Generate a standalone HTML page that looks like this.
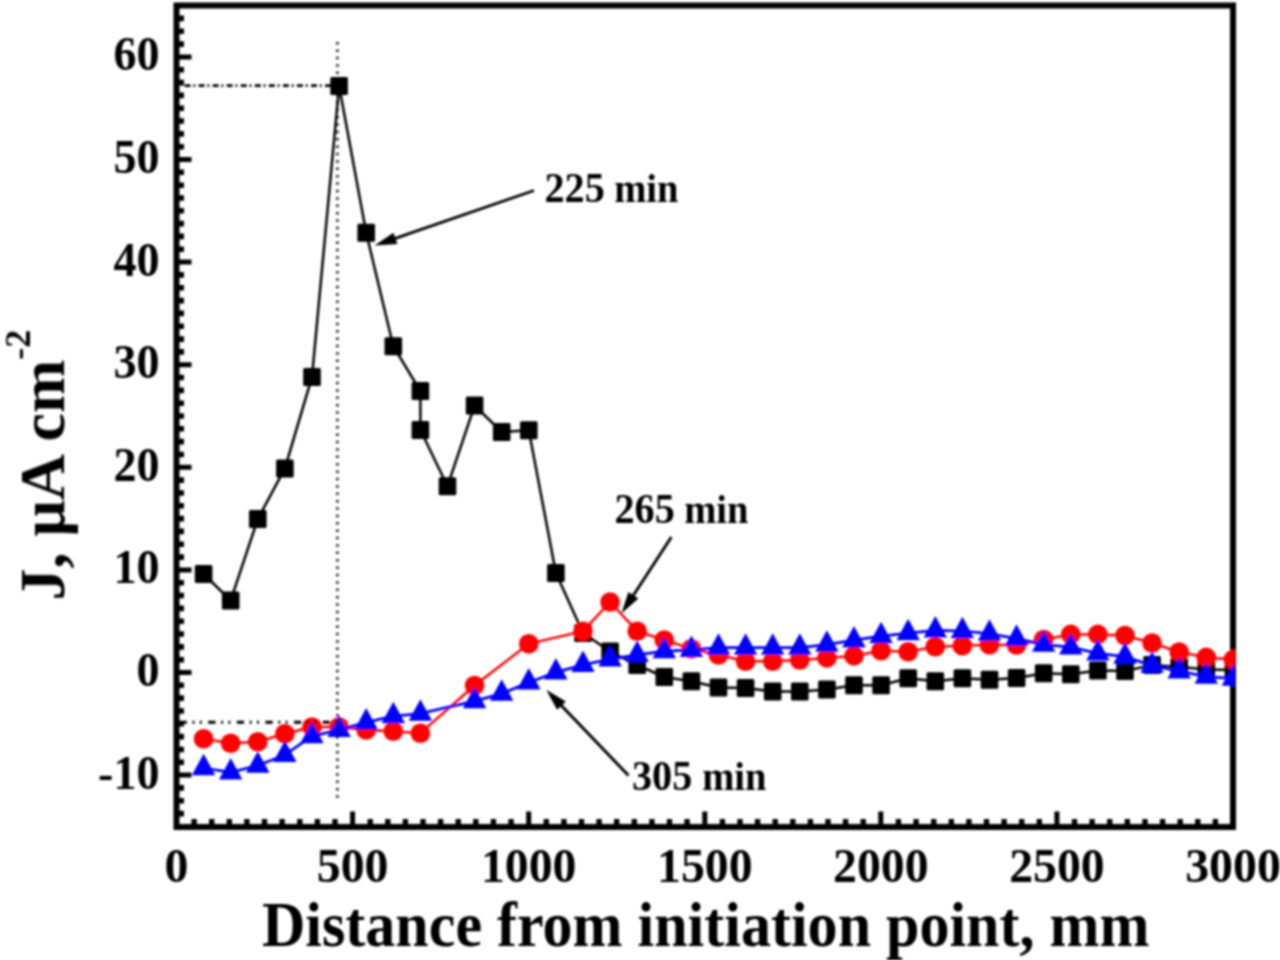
<!DOCTYPE html>
<html><head><meta charset="utf-8"><style>
html,body{margin:0;padding:0;background:#fff;width:1280px;height:960px;overflow:hidden}
svg{display:block}
text{font-family:"Liberation Serif",serif;font-weight:bold;fill:#000}
</style></head><body>
<svg width="1280" height="960" viewBox="0 0 1280 960">
<defs><filter id="bl" x="0" y="0" width="1280" height="960" filterUnits="userSpaceOnUse"><feGaussianBlur stdDeviation="0.8"/></filter><clipPath id="pc"><rect x="176.5" y="5.5" width="1058.8" height="821.2"/></clipPath></defs>
<g filter="url(#bl)">

<rect x="176.5" y="5.5" width="1056.5" height="821.5" fill="none" stroke="#000" stroke-width="6"/>
<path d="M179,775.1H191.5M179,672.5H191.5M179,569.9H191.5M179,467.3H191.5M179,364.7H191.5M179,262.1H191.5M179,159.5H191.5M179,56.9H191.5" stroke="#000" stroke-width="5" fill="none"/>
<path d="M179,813.6H184M179,800.8H184M179,787.9H184M179,762.3H184M179,749.5H184M179,736.6H184M179,723.8H184M179,711.0H184M179,698.1H184M179,685.3H184M179,659.7H184M179,646.9H184M179,634.0H184M179,621.2H184M179,608.4H184M179,595.5H184M179,582.7H184M179,557.1H184M179,544.2H184M179,531.4H184M179,518.6H184M179,505.8H184M179,493.0H184M179,480.1H184M179,454.5H184M179,441.6H184M179,428.8H184M179,416.0H184M179,403.2H184M179,390.4H184M179,377.5H184M179,351.9H184M179,339.1H184M179,326.2H184M179,313.4H184M179,300.6H184M179,287.8H184M179,274.9H184M179,249.3H184M179,236.4H184M179,223.6H184M179,210.8H184M179,198.0H184M179,185.2H184M179,172.3H184M179,146.7H184M179,133.9H184M179,121.0H184M179,108.2H184M179,95.4H184M179,82.6H184M179,69.7H184M179,44.1H184M179,31.2H184M179,18.4H184" stroke="#000" stroke-width="5.6" fill="none"/>
<path d="M352.6,824V811.5M528.7,824V811.5M704.8,824V811.5M880.8,824V811.5M1056.9,824V811.5" stroke="#000" stroke-width="5" fill="none"/>
<path d="M194.1,824V819M211.7,824V819M229.3,824V819M246.9,824V819M264.5,824V819M282.1,824V819M299.8,824V819M317.4,824V819M335.0,824V819M370.2,824V819M387.8,824V819M405.4,824V819M423.0,824V819M440.6,824V819M458.2,824V819M475.8,824V819M493.4,824V819M511.1,824V819M546.3,824V819M563.9,824V819M581.5,824V819M599.1,824V819M616.7,824V819M634.3,824V819M651.9,824V819M669.5,824V819M687.1,824V819M722.4,824V819M740.0,824V819M757.6,824V819M775.2,824V819M792.8,824V819M810.4,824V819M828.0,824V819M845.6,824V819M863.2,824V819M898.4,824V819M916.1,824V819M933.7,824V819M951.3,824V819M968.9,824V819M986.5,824V819M1004.1,824V819M1021.7,824V819M1039.3,824V819M1074.5,824V819M1092.1,824V819M1109.7,824V819M1127.3,824V819M1145.0,824V819M1162.6,824V819M1180.2,824V819M1197.8,824V819M1215.4,824V819" stroke="#000" stroke-width="5.4" fill="none"/>
<g clip-path="url(#pc)">
<polyline points="203.6,574.0 230.7,600.5 257.8,519.0 284.9,468.4 312.0,376.9 339.1,86.0 366.2,232.8 393.3,346.2 420.4,391.0 420.4,430.0 447.5,486.2 474.6,405.5 501.7,432.0 528.8,430.3 555.9,573.0 583.0,633.0 610.1,651.5 637.2,665.0 664.3,677.0 691.4,681.2 718.5,687.5 745.6,688.0 772.7,691.5 799.8,691.4 826.9,689.4 854.0,685.3 881.1,685.3 908.2,678.2 935.3,681.2 962.4,678.2 989.5,679.8 1016.6,678.0 1043.7,673.3 1070.8,674.2 1097.9,670.5 1125.0,671.1 1152.1,665.0 1179.2,667.0 1206.3,669.4 1233.4,670.0" fill="none" stroke="#000" stroke-width="2.5"/>
<rect x="194.8" y="565.0" width="17.6" height="18" rx="1.5" fill="#000"/>
<rect x="221.9" y="591.5" width="17.6" height="18" rx="1.5" fill="#000"/>
<rect x="249.0" y="510.0" width="17.6" height="18" rx="1.5" fill="#000"/>
<rect x="276.1" y="459.4" width="17.6" height="18" rx="1.5" fill="#000"/>
<rect x="303.2" y="367.9" width="17.6" height="18" rx="1.5" fill="#000"/>
<rect x="330.3" y="77.0" width="17.6" height="18" rx="1.5" fill="#000"/>
<rect x="357.4" y="223.8" width="17.6" height="18" rx="1.5" fill="#000"/>
<rect x="384.5" y="337.2" width="17.6" height="18" rx="1.5" fill="#000"/>
<rect x="411.6" y="382.0" width="17.6" height="18" rx="1.5" fill="#000"/>
<rect x="411.6" y="421.0" width="17.6" height="18" rx="1.5" fill="#000"/>
<rect x="438.7" y="477.2" width="17.6" height="18" rx="1.5" fill="#000"/>
<rect x="465.8" y="396.5" width="17.6" height="18" rx="1.5" fill="#000"/>
<rect x="492.9" y="423.0" width="17.6" height="18" rx="1.5" fill="#000"/>
<rect x="520.0" y="421.3" width="17.6" height="18" rx="1.5" fill="#000"/>
<rect x="547.1" y="564.0" width="17.6" height="18" rx="1.5" fill="#000"/>
<rect x="574.2" y="624.0" width="17.6" height="18" rx="1.5" fill="#000"/>
<rect x="601.3" y="642.5" width="17.6" height="18" rx="1.5" fill="#000"/>
<rect x="628.4" y="656.0" width="17.6" height="18" rx="1.5" fill="#000"/>
<rect x="655.5" y="668.0" width="17.6" height="18" rx="1.5" fill="#000"/>
<rect x="682.6" y="672.2" width="17.6" height="18" rx="1.5" fill="#000"/>
<rect x="709.7" y="678.5" width="17.6" height="18" rx="1.5" fill="#000"/>
<rect x="736.8" y="679.0" width="17.6" height="18" rx="1.5" fill="#000"/>
<rect x="763.9" y="682.5" width="17.6" height="18" rx="1.5" fill="#000"/>
<rect x="791.0" y="682.4" width="17.6" height="18" rx="1.5" fill="#000"/>
<rect x="818.1" y="680.4" width="17.6" height="18" rx="1.5" fill="#000"/>
<rect x="845.2" y="676.3" width="17.6" height="18" rx="1.5" fill="#000"/>
<rect x="872.3" y="676.3" width="17.6" height="18" rx="1.5" fill="#000"/>
<rect x="899.4" y="669.2" width="17.6" height="18" rx="1.5" fill="#000"/>
<rect x="926.5" y="672.2" width="17.6" height="18" rx="1.5" fill="#000"/>
<rect x="953.6" y="669.2" width="17.6" height="18" rx="1.5" fill="#000"/>
<rect x="980.7" y="670.8" width="17.6" height="18" rx="1.5" fill="#000"/>
<rect x="1007.8" y="669.0" width="17.6" height="18" rx="1.5" fill="#000"/>
<rect x="1034.9" y="664.3" width="17.6" height="18" rx="1.5" fill="#000"/>
<rect x="1062.0" y="665.2" width="17.6" height="18" rx="1.5" fill="#000"/>
<rect x="1089.1" y="661.5" width="17.6" height="18" rx="1.5" fill="#000"/>
<rect x="1116.2" y="662.1" width="17.6" height="18" rx="1.5" fill="#000"/>
<rect x="1143.3" y="656.0" width="17.6" height="18" rx="1.5" fill="#000"/>
<rect x="1170.4" y="658.0" width="17.6" height="18" rx="1.5" fill="#000"/>
<rect x="1197.5" y="660.4" width="17.6" height="18" rx="1.5" fill="#000"/>
<rect x="1224.6" y="661.0" width="17.6" height="18" rx="1.5" fill="#000"/>
<polyline points="203.6,738.8 230.7,743.2 257.8,741.8 284.9,733.8 312.0,727.0 339.1,727.0 366.2,730.0 393.3,731.2 420.4,733.2 474.6,685.5 528.8,643.8 583.0,631.2 610.1,602.0 637.2,631.2 664.3,640.0 691.4,648.8 718.5,655.0 745.6,661.2 772.7,661.2 799.8,660.0 826.9,657.9 854.0,655.9 881.1,650.8 908.2,651.8 935.3,646.7 962.4,645.7 989.5,644.7 1016.6,645.0 1043.7,639.5 1070.8,634.4 1097.9,634.4 1125.0,635.5 1152.1,643.0 1179.2,652.0 1206.3,657.4 1233.4,659.5" fill="none" stroke="#f00" stroke-width="2.5"/>
<circle cx="203.6" cy="738.8" r="9.8" fill="#f00"/>
<circle cx="230.7" cy="743.2" r="9.8" fill="#f00"/>
<circle cx="257.8" cy="741.8" r="9.8" fill="#f00"/>
<circle cx="284.9" cy="733.8" r="9.8" fill="#f00"/>
<circle cx="312.0" cy="727.0" r="9.8" fill="#f00"/>
<circle cx="339.1" cy="727.0" r="9.8" fill="#f00"/>
<circle cx="366.2" cy="730.0" r="9.8" fill="#f00"/>
<circle cx="393.3" cy="731.2" r="9.8" fill="#f00"/>
<circle cx="420.4" cy="733.2" r="9.8" fill="#f00"/>
<circle cx="474.6" cy="685.5" r="9.8" fill="#f00"/>
<circle cx="528.8" cy="643.8" r="9.8" fill="#f00"/>
<circle cx="583.0" cy="631.2" r="9.8" fill="#f00"/>
<circle cx="610.1" cy="602.0" r="9.8" fill="#f00"/>
<circle cx="637.2" cy="631.2" r="9.8" fill="#f00"/>
<circle cx="664.3" cy="640.0" r="9.8" fill="#f00"/>
<circle cx="691.4" cy="648.8" r="9.8" fill="#f00"/>
<circle cx="718.5" cy="655.0" r="9.8" fill="#f00"/>
<circle cx="745.6" cy="661.2" r="9.8" fill="#f00"/>
<circle cx="772.7" cy="661.2" r="9.8" fill="#f00"/>
<circle cx="799.8" cy="660.0" r="9.8" fill="#f00"/>
<circle cx="826.9" cy="657.9" r="9.8" fill="#f00"/>
<circle cx="854.0" cy="655.9" r="9.8" fill="#f00"/>
<circle cx="881.1" cy="650.8" r="9.8" fill="#f00"/>
<circle cx="908.2" cy="651.8" r="9.8" fill="#f00"/>
<circle cx="935.3" cy="646.7" r="9.8" fill="#f00"/>
<circle cx="962.4" cy="645.7" r="9.8" fill="#f00"/>
<circle cx="989.5" cy="644.7" r="9.8" fill="#f00"/>
<circle cx="1016.6" cy="645.0" r="9.8" fill="#f00"/>
<circle cx="1043.7" cy="639.5" r="9.8" fill="#f00"/>
<circle cx="1070.8" cy="634.4" r="9.8" fill="#f00"/>
<circle cx="1097.9" cy="634.4" r="9.8" fill="#f00"/>
<circle cx="1125.0" cy="635.5" r="9.8" fill="#f00"/>
<circle cx="1152.1" cy="643.0" r="9.8" fill="#f00"/>
<circle cx="1179.2" cy="652.0" r="9.8" fill="#f00"/>
<circle cx="1206.3" cy="657.4" r="9.8" fill="#f00"/>
<circle cx="1233.4" cy="659.5" r="9.8" fill="#f00"/>
<polyline points="203.6,768.0 230.7,772.4 257.8,765.5 284.9,754.9 312.0,736.1 339.1,729.9 366.2,722.4 393.3,716.1 420.4,713.6 474.6,701.1 501.7,693.6 528.8,682.4 555.9,672.4 583.0,664.9 610.1,659.2 637.2,654.9 664.3,651.1 691.4,649.9 718.5,647.6 745.6,647.6 772.7,647.6 799.8,647.6 826.9,644.6 854.0,640.2 881.1,636.1 908.2,633.1 935.3,630.4 962.4,631.0 989.5,633.6 1016.6,638.6 1043.7,644.6 1070.8,647.2 1097.9,653.3 1125.0,656.6 1152.1,665.6 1179.2,671.2 1206.3,676.6 1233.4,678.6" fill="none" stroke="#00f" stroke-width="2.7"/>
<polygon points="203.6,753.7 215.3,775.2 191.9,775.2" fill="#00f"/>
<polygon points="230.7,758.1 242.4,779.6 219.0,779.6" fill="#00f"/>
<polygon points="257.8,751.2 269.5,772.7 246.1,772.7" fill="#00f"/>
<polygon points="284.9,740.6 296.6,762.1 273.2,762.1" fill="#00f"/>
<polygon points="312.0,721.8 323.7,743.3 300.3,743.3" fill="#00f"/>
<polygon points="339.1,715.6 350.8,737.1 327.4,737.1" fill="#00f"/>
<polygon points="366.2,708.1 377.9,729.6 354.5,729.6" fill="#00f"/>
<polygon points="393.3,701.8 405.0,723.3 381.6,723.3" fill="#00f"/>
<polygon points="420.4,699.3 432.1,720.8 408.7,720.8" fill="#00f"/>
<polygon points="474.6,686.8 486.3,708.3 462.9,708.3" fill="#00f"/>
<polygon points="501.7,679.3 513.4,700.8 490.0,700.8" fill="#00f"/>
<polygon points="528.8,668.1 540.5,689.6 517.1,689.6" fill="#00f"/>
<polygon points="555.9,658.1 567.6,679.6 544.2,679.6" fill="#00f"/>
<polygon points="583.0,650.6 594.7,672.1 571.3,672.1" fill="#00f"/>
<polygon points="610.1,644.9 621.8,666.4 598.4,666.4" fill="#00f"/>
<polygon points="637.2,640.6 648.9,662.1 625.5,662.1" fill="#00f"/>
<polygon points="664.3,636.8 676.0,658.3 652.6,658.3" fill="#00f"/>
<polygon points="691.4,635.6 703.1,657.1 679.7,657.1" fill="#00f"/>
<polygon points="718.5,633.3 730.2,654.8 706.8,654.8" fill="#00f"/>
<polygon points="745.6,633.3 757.3,654.8 733.9,654.8" fill="#00f"/>
<polygon points="772.7,633.3 784.4,654.8 761.0,654.8" fill="#00f"/>
<polygon points="799.8,633.3 811.5,654.8 788.1,654.8" fill="#00f"/>
<polygon points="826.9,630.3 838.6,651.8 815.2,651.8" fill="#00f"/>
<polygon points="854.0,625.9 865.7,647.4 842.3,647.4" fill="#00f"/>
<polygon points="881.1,621.8 892.8,643.3 869.4,643.3" fill="#00f"/>
<polygon points="908.2,618.8 919.9,640.3 896.5,640.3" fill="#00f"/>
<polygon points="935.3,616.1 947.0,637.6 923.6,637.6" fill="#00f"/>
<polygon points="962.4,616.7 974.1,638.2 950.7,638.2" fill="#00f"/>
<polygon points="989.5,619.3 1001.2,640.8 977.8,640.8" fill="#00f"/>
<polygon points="1016.6,624.3 1028.3,645.8 1004.9,645.8" fill="#00f"/>
<polygon points="1043.7,630.3 1055.4,651.8 1032.0,651.8" fill="#00f"/>
<polygon points="1070.8,632.9 1082.5,654.4 1059.1,654.4" fill="#00f"/>
<polygon points="1097.9,639.0 1109.6,660.5 1086.2,660.5" fill="#00f"/>
<polygon points="1125.0,642.3 1136.7,663.8 1113.3,663.8" fill="#00f"/>
<polygon points="1152.1,651.3 1163.8,672.8 1140.4,672.8" fill="#00f"/>
<polygon points="1179.2,656.9 1190.9,678.4 1167.5,678.4" fill="#00f"/>
<polygon points="1206.3,662.3 1218.0,683.8 1194.6,683.8" fill="#00f"/>
<polygon points="1233.4,664.3 1245.1,685.8 1221.7,685.8" fill="#00f"/>
</g>
<line x1="337.4" y1="42.05" x2="337.4" y2="798" stroke="#111" stroke-width="2.5" stroke-dasharray="2.5,4.885" style="mix-blend-mode:multiply"/>
<line x1="184.6" y1="85.6" x2="331" y2="85.6" stroke="#000" stroke-width="2.6" stroke-dasharray="5.9,2.9,1.8,3.45" style="mix-blend-mode:multiply"/>
<line x1="179.6" y1="722.2" x2="338" y2="722.2" stroke="#000" stroke-width="2.9" stroke-dasharray="7.3,5.6,2,5.3,2,6.4" style="mix-blend-mode:multiply"/>
<text transform="translate(159.5,788.6) scale(0.940,1)" font-size="49.0" text-anchor="end">-10</text>
<text transform="translate(159.5,686.0) scale(0.940,1)" font-size="49.0" text-anchor="end">0</text>
<text transform="translate(159.5,583.4) scale(0.940,1)" font-size="49.0" text-anchor="end">10</text>
<text transform="translate(159.5,480.8) scale(0.940,1)" font-size="49.0" text-anchor="end">20</text>
<text transform="translate(159.5,378.2) scale(0.940,1)" font-size="49.0" text-anchor="end">30</text>
<text transform="translate(159.5,275.6) scale(0.940,1)" font-size="49.0" text-anchor="end">40</text>
<text transform="translate(159.5,173.0) scale(0.940,1)" font-size="49.0" text-anchor="end">50</text>
<text transform="translate(159.5,70.4) scale(0.940,1)" font-size="49.0" text-anchor="end">60</text>
<text transform="translate(176.5,882.2) scale(0.965,1)" font-size="49.5" text-anchor="middle">0</text>
<text transform="translate(352.6,882.2) scale(0.965,1)" font-size="49.5" text-anchor="middle">500</text>
<text transform="translate(528.7,882.2) scale(0.965,1)" font-size="49.5" text-anchor="middle">1000</text>
<text transform="translate(704.8,882.2) scale(0.965,1)" font-size="49.5" text-anchor="middle">1500</text>
<text transform="translate(880.8,882.2) scale(0.965,1)" font-size="49.5" text-anchor="middle">2000</text>
<text transform="translate(1056.9,882.2) scale(0.965,1)" font-size="49.5" text-anchor="middle">2500</text>
<text transform="translate(1233.0,882.2) scale(0.965,1)" font-size="49.5" text-anchor="middle">3000</text>
<text transform="translate(262.0,946.0) scale(0.938,1)" font-size="64.0" text-anchor="start">Distance from initiation point, mm</text>
<text transform="translate(64,600.5) rotate(-90)" font-size="64">J, μA cm<tspan font-size="36" dy="-34">-2</tspan></text>
<text transform="translate(544.5,201.6) scale(0.935,1)" font-size="43.0" text-anchor="start">225</text>
<text transform="translate(678.5,201.6) scale(0.940,1)" font-size="41.0" text-anchor="end">min</text>
<text transform="translate(614.5,522.8) scale(0.935,1)" font-size="43.0" text-anchor="start">265</text>
<text transform="translate(748.5,522.8) scale(0.940,1)" font-size="41.0" text-anchor="end">min</text>
<text transform="translate(632.0,789.7) scale(0.935,1)" font-size="43.0" text-anchor="start">305</text>
<text transform="translate(766.5,789.7) scale(0.940,1)" font-size="41.0" text-anchor="end">min</text>
<line x1="534.0" y1="190.5" x2="392.6" y2="239.3" stroke="#000" stroke-width="2.9"/><polygon points="374.6,245.5 393.4,232.7 397.4,244.0" fill="#000"/>
<line x1="671.4" y1="537.0" x2="631.8" y2="597.7" stroke="#000" stroke-width="2.9"/><polygon points="621.4,613.6 628.4,591.9 638.4,598.5" fill="#000"/>
<line x1="628.5" y1="775.5" x2="559.4" y2="703.5" stroke="#000" stroke-width="2.9"/><polygon points="546.2,689.8 565.8,701.5 557.1,709.8" fill="#000"/>
</g></svg></body></html>
